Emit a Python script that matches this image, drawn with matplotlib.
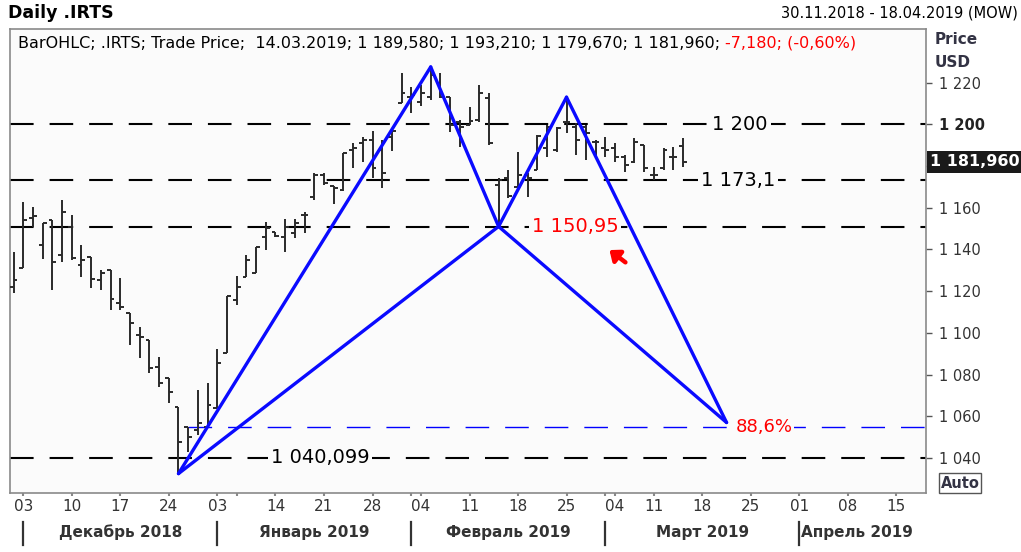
import matplotlib
matplotlib.use("Agg")
import matplotlib.pyplot as plt
import matplotlib.transforms as mtransforms
import numpy as np

# daily OHLC of .IRTS, 30.11.2018 .. 14.03.2019 (one entry per trading day)
opens = [1122.0, 1130.9, 1155.1, 1142.1, 1154.1, 1137.3, 1150.9, 1132.5, 1136.5, 1125.3,
         1130.1, 1114.1, 1109.4, 1099.0, 1096.6, 1083.7, 1078.2, 1064.6, 1055.0, 1053.4,
         1055.0, 1063.8, 1090.2, 1115.7, 1126.8, 1128.5, 1146.1, 1148.3, 1146.1, 1147.7,
         1156.5, 1165.3, 1175.7, 1170.4, 1168.5, 1187.7, 1190.9, 1192.5, 1187.7, 1193.8,
         1210.4, 1213.2, 1210.8, 1213.2, 1219.7, 1213.2, 1201.2, 1199.7, 1202.1, 1212.5,
         1170.9, 1174.2, 1170.1, 1175.7, 1178.1, 1188.5, 1187.7, 1201.2, 1198.8, 1198.8,
         1191.7, 1188.5, 1188.5, 1184.5, 1182.1, 1190.1, 1175.7, 1178.9, 1184.5, 1189.58]
highs = [1138.9, 1162.9, 1160.5, 1152.5, 1154.1, 1163.7, 1156.5, 1142.1, 1136.5, 1130.1,
         1130.1, 1126.1, 1109.4, 1102.9, 1096.6, 1088.5, 1078.2, 1064.6, 1055.0, 1072.6,
         1075.8, 1092.1, 1117.6, 1127.1, 1137.3, 1141.3, 1153.3, 1148.5, 1154.4, 1154.4,
         1158.1, 1176.5, 1176.5, 1170.4, 1186.4, 1190.9, 1194.1, 1196.9, 1192.5, 1196.9,
         1224.5, 1218.0, 1218.8, 1227.0, 1224.5, 1213.2, 1202.1, 1208.4, 1218.8, 1214.9,
         1174.1, 1178.1, 1186.9, 1176.5, 1194.9, 1199.7, 1198.8, 1213.0, 1200.5, 1199.7,
         1192.5, 1194.1, 1190.9, 1185.3, 1193.3, 1190.1, 1179.7, 1188.5, 1189.3, 1193.21]
lows = [1118.9, 1130.9, 1150.6, 1135.3, 1120.5, 1134.1, 1134.9, 1126.9, 1121.3, 1120.5,
        1110.9, 1110.9, 1094.1, 1087.8, 1080.6, 1074.1, 1066.2, 1032.6, 1043.0, 1051.0,
        1054.2, 1063.8, 1090.2, 1113.3, 1126.8, 1128.5, 1139.7, 1146.1, 1138.9, 1145.3,
        1147.7, 1163.7, 1170.9, 1161.8, 1168.2, 1178.9, 1182.1, 1174.1, 1169.3, 1187.3,
        1210.1, 1205.3, 1208.8, 1211.7, 1212.5, 1196.5, 1189.3, 1199.7, 1201.2, 1190.1,
        1152.0, 1164.5, 1170.1, 1165.3, 1178.1, 1184.5, 1186.9, 1195.7, 1185.3, 1182.9,
        1184.5, 1184.5, 1182.1, 1177.3, 1181.3, 1177.3, 1173.3, 1178.1, 1178.1, 1179.67]
closes = [1125.3, 1154.1, 1156.0, 1152.5, 1134.1, 1158.1, 1135.7, 1134.9, 1125.7, 1128.8,
          1116.1, 1112.5, 1104.6, 1098.0, 1083.0, 1076.1, 1071.8, 1047.8, 1050.2, 1056.6,
          1065.4, 1085.7, 1117.6, 1122.1, 1134.9, 1141.3, 1150.1, 1146.4, 1150.9, 1152.5,
          1156.5, 1175.7, 1171.7, 1169.3, 1186.1, 1188.5, 1192.5, 1178.9, 1176.5, 1196.9,
          1214.9, 1214.1, 1214.9, 1223.6, 1213.2, 1199.7, 1198.8, 1201.7, 1214.9, 1190.9,
          1173.3, 1165.6, 1175.7, 1174.2, 1194.4, 1198.8, 1198.1, 1201.2, 1192.5, 1195.7,
          1191.7, 1187.7, 1184.5, 1180.5, 1191.7, 1178.9, 1175.7, 1187.7, 1184.5, 1181.96]

# XABCD pattern points (bar index, price)
pat_x = [16, 42, 49, 56, 72.5]
pat_y = [1032.5, 1227.5, 1151.0, 1213.0, 1057.0]

levels = [1200.0, 1173.1, 1150.95, 1040.099]
level_labels = ["1 200", "1 173,1", "1 150,95", "1 040,099"]
level_label_x = [73.9, 73.7, 56.9, 30.6]
level_label_colors = ["black", "black", "red", "black"]
d_level = 1055.0

day_ticks = [0, 5, 10, 15, 20, 26, 31, 36, 41, 46, 51, 56, 61, 65, 70, 75, 80, 85, 90]
day_labels = ["03", "10", "17", "24", "03", "14", "21", "28", "04", "11",
              "18", "25", "04", "11", "18", "25", "01", "08", "15"]
month_starts = [0, 20, 40, 60, 80]
month_names = ["Декабрь 2018", "Январь 2019", "Февраль 2019", "Март 2019", "Апрель 2019"]
price_ticks = [1040, 1060, 1080, 1100, 1120, 1140, 1160, 1180, 1200, 1220]

plt.rcParams["lines.scale_dashes"] = False
W, H = 1021, 552
fig = plt.figure(figsize=(W / 100, H / 100), dpi=100)
fig.patch.set_facecolor("white")
ax = fig.add_axes([10 / W, 59 / H, 916 / W, 464 / H])
ax.set_facecolor("#fbfbfb")
ax.set_xlim(-1.37, 93.06)
ax.set_ylim(1023.2, 1245.7)
for s in ax.spines.values():
    s.set_color("#8a8a8a")
    s.set_linewidth(1.2)

# OHLC bars
x = np.arange(len(opens)) - 1
bar_col = "#2a2a2a"
ax.vlines(x, lows, highs, color=bar_col, lw=1.4, zorder=3)
ax.hlines(opens, x - 0.4, x, color=bar_col, lw=1.4, zorder=3)
ax.hlines(closes, x, x + 0.4, color=bar_col, lw=1.4, zorder=3)

# horizontal levels
dash = (0, (17, 11.5))
for lv in levels:
    ax.axhline(lv, color="black", lw=1.5, linestyle=dash, zorder=2)
ax.plot([17, 93.06], [d_level, d_level], color="#0000ff", lw=1.0, linestyle=dash, zorder=2)

for lv, txt, lx, c in zip(levels, level_labels, level_label_x, level_label_colors):
    ax.text(lx, lv, txt, color=c, fontsize=14, ha="center", va="center", zorder=5,
            bbox=dict(facecolor="#fbfbfb", edgecolor="none", pad=2))
ax.text(73.4, d_level, "88,6%", color="red", fontsize=13, ha="left", va="center", zorder=5,
        bbox=dict(facecolor="#fbfbfb", edgecolor="none", pad=1))

# pattern
blue = "#0a0aff"
for i, j in [(0, 1), (1, 2), (0, 2), (2, 3), (3, 4), (2, 4)]:
    ax.plot([pat_x[i], pat_x[j]], [pat_y[i], pat_y[j]], color=blue, lw=2.4,
            solid_capstyle="round", zorder=4)

ax.annotate("", xy=(60.2, 1140.5), xytext=(62.3, 1133.0),
            arrowprops=dict(arrowstyle="-|>,head_width=0.45,head_length=0.55",
                            color="red", lw=3.2), zorder=6)

# axes ticks (the 1 180 label sits under the last price marker)
ax.yaxis.tick_right()
ax.set_yticks(price_ticks)
ax.set_yticklabels(["" if p == 1180 else f"1 {p - 1000:03d}" for p in price_ticks])
ax.tick_params(axis="y", length=4, width=1, colors="#555555", labelcolor="#333333",
               labelsize=10.5, pad=5)
for lab, p in zip(ax.get_yticklabels(), price_ticks):
    if p == 1200:
        lab.set_fontweight("bold")
        lab.set_color("#222222")
ax.set_xticks(day_ticks)
ax.set_xticklabels(day_labels)
ax.set_xticks([22, 40, 60], minor=True)
ax.tick_params(axis="x", which="both", length=2, width=1.5, colors="#888888",
               labelcolor="#333333", labelsize=11, pad=2)

trans = mtransforms.blended_transform_factory(ax.transData, fig.transFigure)
for m in month_starts:
    ax.plot([m, m], [7 / H, 30 / H], color="#333333", lw=1.6, transform=trans, clip_on=False)
for k, name in enumerate(month_names):
    if k < 4:
        ax.text((month_starts[k] + month_starts[k + 1]) / 2, 20 / H, name, transform=trans,
                ha="center", va="center", fontsize=11, fontweight="bold", color="#333333")
    else:
        ax.text(month_starts[k] + 0.2, 20 / H, name, transform=trans,
                ha="left", va="center", fontsize=11, fontweight="bold", color="#333333")

# header texts
fig.text(8 / W, 1 - 13 / H, "Daily .IRTS", fontsize=12.5, fontweight="bold", va="center")
fig.text(1018 / W, 1 - 13 / H, "30.11.2018 - 18.04.2019 (MOW)", fontsize=10.5,
         ha="right", va="center")
info = ax.text(8 / 916, 1 - 14 / 464, "BarOHLC; .IRTS; Trade Price;  14.03.2019; 1 189,580; "
               "1 193,210; 1 179,670; 1 181,960; ", transform=ax.transAxes,
               fontsize=11.5, va="center", ha="left")
ax.annotate("-7,180; (-0,60%)", xy=(1, 0.5), xycoords=info, va="center", ha="left",
            fontsize=11.5, color="red")

fig.text(935 / W, 1 - 40 / H, "Price", fontsize=11, fontweight="bold", color="#333344",
         va="center")
fig.text(935 / W, 1 - 62 / H, "USD", fontsize=11, fontweight="bold", color="#333344",
         va="center")

# last price marker
ax.annotate("1 181,960", xy=(1.0, closes[-1]), xycoords=("axes fraction", "data"),
            xytext=(3, 0), textcoords="offset points", ha="left", va="center",
            fontsize=11.5, fontweight="bold", color="white", annotation_clip=False,
            bbox=dict(facecolor="#1a1a1a", edgecolor="none", pad=2.5), zorder=10)

fig.text(960 / W, 1 - 483 / H, "Auto", fontsize=10.5, fontweight="bold", color="#333344",
         ha="center", va="center",
         bbox=dict(facecolor="white", edgecolor="#555555", pad=1.5, lw=1))

fig.savefig("out.png", dpi=100)
